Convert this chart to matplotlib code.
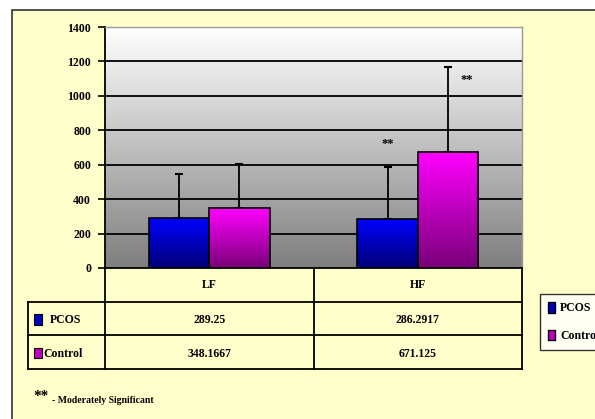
import numpy as np
import matplotlib
matplotlib.use("Agg")
import matplotlib.pyplot as plt
from matplotlib.patches import Rectangle, Patch
from matplotlib.colors import LinearSegmentedColormap

# data
categories = ["LF", "HF"]
series = ["PCOS", "Control"]
pcos = [289.25, 286.2917]
control = [348.1667, 671.125]
pcos_err = [257, 300]
control_err = [256, 497]
pcos_labels = ["289.25", "286.2917"]
control_labels = ["348.1667", "671.125"]
yticks = [0, 200, 400, 600, 800, 1000, 1200, 1400]

plt.rcParams['font.family'] = ['Liberation Serif', 'DejaVu Serif']
plt.rcParams['font.weight'] = 'bold'
FS = 8.5

W, H = 595, 419
fig = plt.figure(figsize=(W / 100, H / 100), dpi=100)
fig.patch.set_facecolor("white")

def fx(px):
    return px / W

def fy(py):
    return 1 - py / H

# outer frame
fig.add_artist(Rectangle((fx(12), fy(430)), fx(600) - fx(12), fy(10) - fy(430),
                         transform=fig.transFigure, facecolor="#FFFFCC",
                         edgecolor="#333333", lw=1.2, zorder=0))

ax = fig.add_axes([fx(105), fy(268), fx(522) - fx(105), fy(27) - fy(268)])
ax.set_xlim(-0.5, 1.5)
ax.set_ylim(0, 1400)

# grey gradient background of plot area
bg = LinearSegmentedColormap.from_list("bg", ["#7f7f7f", "#ffffff"])
grad = np.linspace(0, 1, 256).reshape(-1, 1)
ax.imshow(grad, cmap=bg, origin="lower", aspect="auto",
          extent=(-0.5, 1.5, 0, 1400), zorder=0)

for t in yticks[1:-1]:
    ax.axhline(t, color="black", lw=1.3, zorder=1)

x = np.arange(len(categories))
bw = 0.29
blue = LinearSegmentedColormap.from_list("b", ["#000078", "#0000ff"])
mag = LinearSegmentedColormap.from_list("m", ["#780078", "#ff00ff"])

def grad_bars(xpos, vals, cmap):
    bars = ax.bar(xpos, vals, bw, facecolor="none", edgecolor="black", lw=1.2, zorder=4)
    for b in bars:
        im = ax.imshow(grad, cmap=cmap, origin="lower", aspect="auto",
                       extent=(b.get_x(), b.get_x() + b.get_width(), 0, b.get_height()),
                       zorder=3)
        im.set_clip_path(b)
    return bars

grad_bars(x - bw / 2, pcos, blue)
grad_bars(x + bw / 2, control, mag)
ax.errorbar(x - bw / 2, pcos, yerr=[[0, 0], pcos_err], fmt="none", ecolor="black",
            elinewidth=1.3, capsize=3, capthick=1.5, zorder=2)
ax.errorbar(x + bw / 2, control, yerr=[[0, 0], control_err], fmt="none", ecolor="black",
            elinewidth=1.3, capsize=3, capthick=1.5, zorder=2)

ax.text(x[1] - bw / 2, 720, "**", ha="center", va="center", fontsize=9)
ax.text(x[1] + bw / 2 + 0.09, 1090, "**", ha="center", va="center", fontsize=9)

ax.set_yticks(yticks)
ax.set_yticklabels([str(t) for t in yticks], fontsize=FS)
ax.set_xticks([])
ax.tick_params(axis="y", length=5, width=1.2, pad=5)
for s in ["top", "right"]:
    ax.spines[s].set_color("#999999")
    ax.spines[s].set_linewidth(1)
ax.spines["left"].set_linewidth(1.3)
ax.spines["bottom"].set_linewidth(1.3)

# data table under the axis
tax = fig.add_axes([fx(28), fy(369), fx(522) - fx(28), fy(268) - fy(369)])
left_x = -0.5 - (105 - 28) / 208.5
tax.set_xlim(left_x, 1.5)
tax.set_ylim(3, 0)
tax.axis("off")
lk = dict(color="black", lw=1.3, clip_on=False)
tax.plot([-0.5, -0.5], [0, 3], **lk)
tax.plot([0.5, 0.5], [0, 3], **lk)
tax.plot([1.5, 1.5], [0, 3], **lk)
tax.plot([left_x, left_x], [1, 3], **lk)
tax.plot([left_x, 1.5], [1, 1], **lk)
tax.plot([left_x, 1.5], [2, 2], **lk)
tax.plot([left_x, 1.5], [3, 3], **lk)
for i, c in enumerate(categories):
    tax.text(x[i], 0.5, c, ha="center", va="center", fontsize=FS)
    tax.text(x[i], 1.55, pcos_labels[i], ha="center", va="center", fontsize=FS)
    tax.text(x[i], 2.55, control_labels[i], ha="center", va="center", fontsize=FS)
for r, (name, col) in enumerate(zip(series, ["#0000c0", "#c000c0"])):
    tax.add_patch(Rectangle((left_x + 0.03, 1.38 + r), 0.035, 0.3,
                            facecolor=col, edgecolor="black", lw=0.8, clip_on=False))
    tax.text(left_x + 0.075 + (0.03 if r == 0 else 0), 1.55 + r, name,
             ha="left", va="center", fontsize=FS)

fig.legend(handles=[Patch(facecolor="#0000c0", edgecolor="black", label=series[0]),
                    Patch(facecolor="#c000c0", edgecolor="black", label=series[1])],
           loc="upper left", bbox_to_anchor=(fx(534), fy(288)), fontsize=FS,
           frameon=True, fancybox=False, edgecolor="black", facecolor="white",
           handlelength=0.6, handleheight=1.0, handletextpad=0.4, labelspacing=1.3,
           borderpad=0.7)

fig.text(fx(33), fy(396), "**", fontsize=11, va="center", ha="left")
fig.text(fx(52), fy(400), "- Moderately Significant", fontsize=7, va="center", ha="left")

fig.savefig("out.png", dpi=100)
